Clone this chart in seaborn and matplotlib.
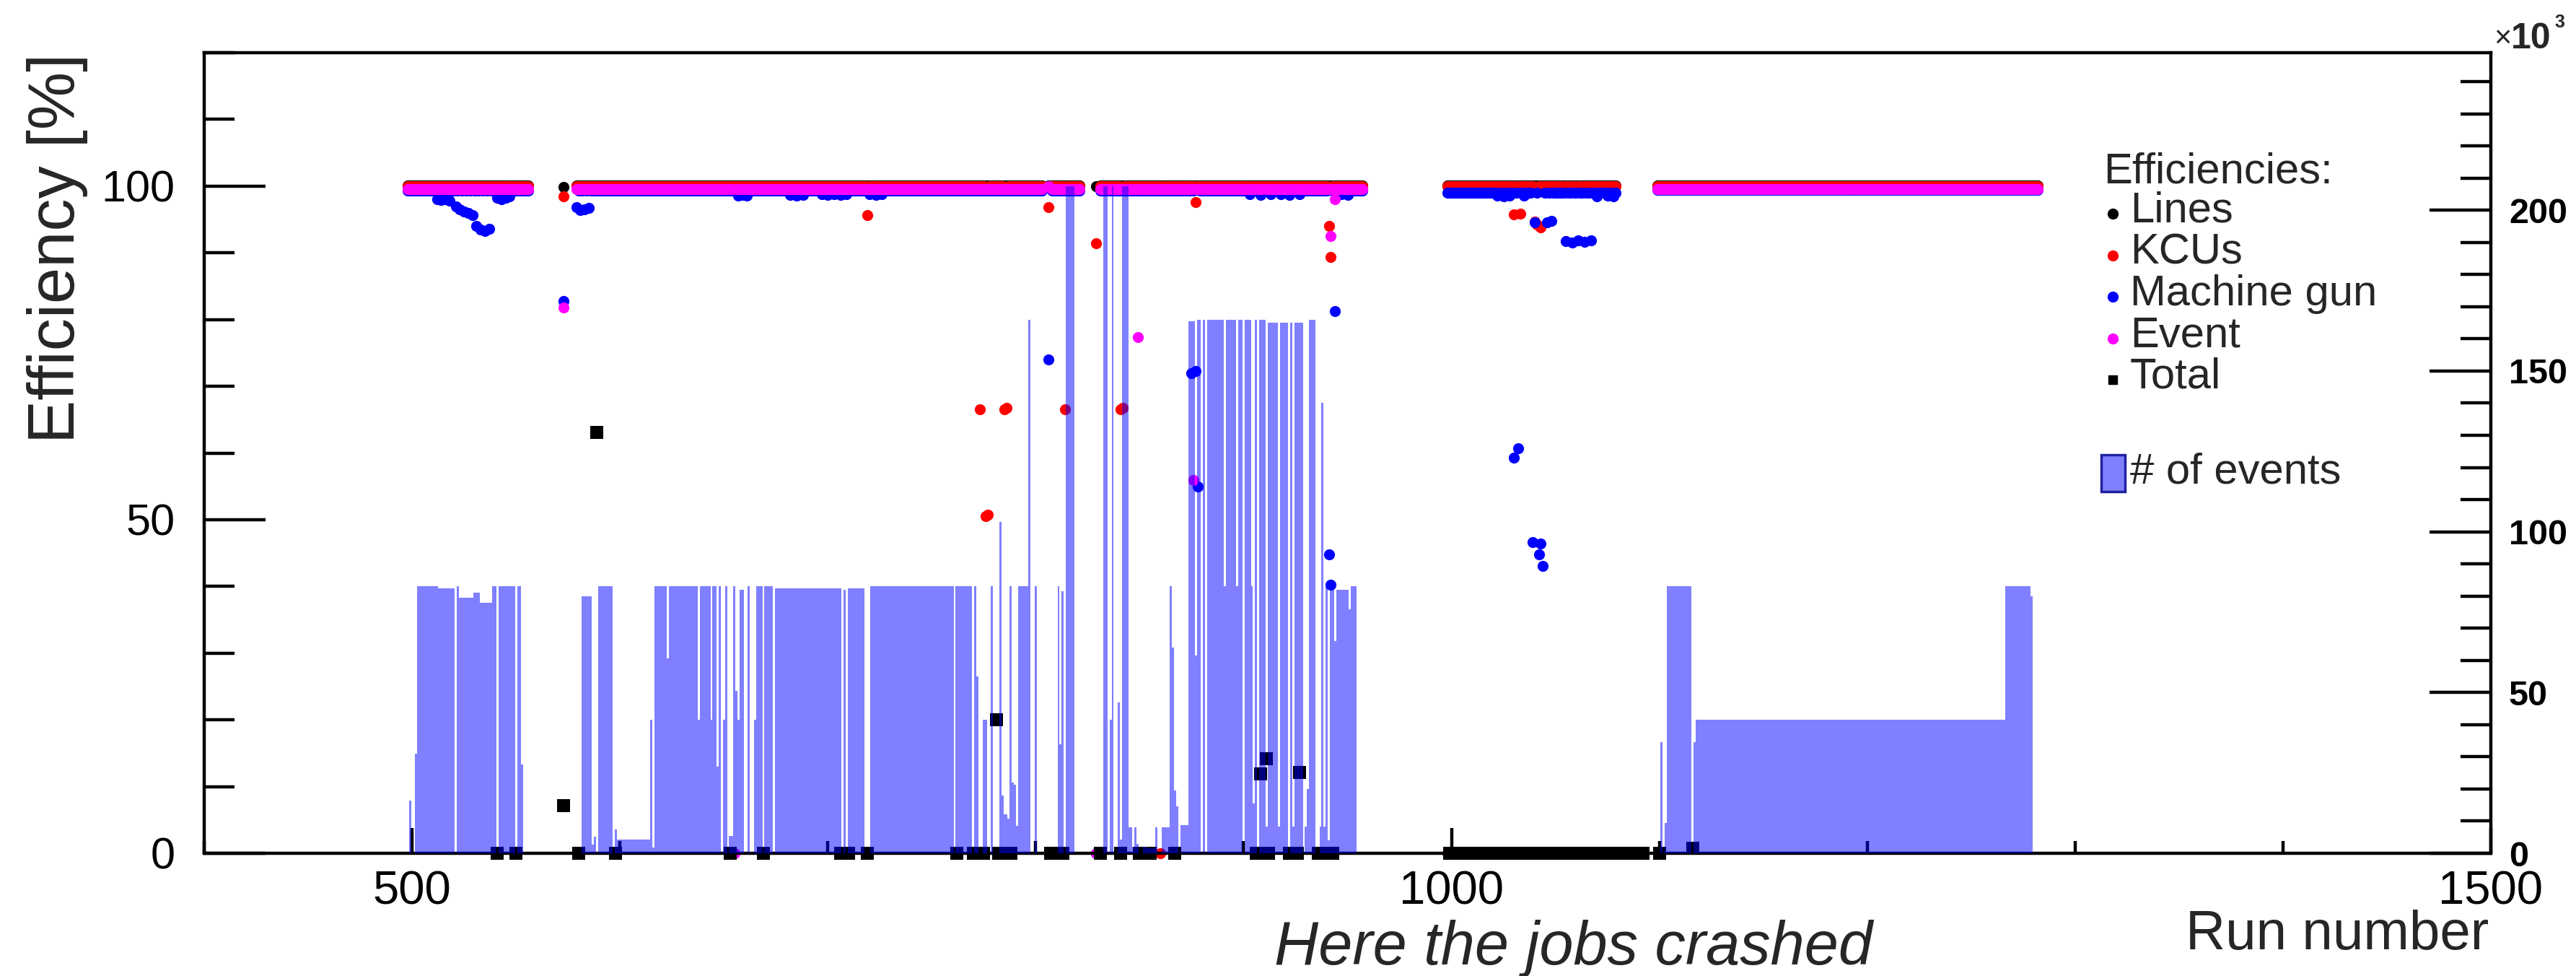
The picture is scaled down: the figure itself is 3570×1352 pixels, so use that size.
import numpy as np
import pandas as pd
import matplotlib
matplotlib.use("Agg")
import matplotlib.pyplot as plt
import seaborn as sns
from matplotlib.ticker import MultipleLocator, FixedLocator
from matplotlib.lines import Line2D
from matplotlib.patches import Rectangle

# ---------------------------------------------------------------- data
# histogram: number of events per run (in thousands), run-length segments (first_run, last_run, value)
hist_segments = [
    (499, 499, 16.5), (502, 502, 31.0), (503, 512, 83.0), (513, 520, 82.4), (522, 522, 83.0),
    (523, 529, 79.5), (530, 532, 81.0), (533, 538, 78.0), (539, 540, 83.0), (542, 549, 83.0),
    (551, 552, 83.0), (553, 553, 27.6),
    (582, 586, 80.0), (587, 587, 2.7), (588, 588, 5.2), (590, 596, 83.0), (598, 598, 7.5),
    (599, 614, 4.2), (615, 615, 41.5), (616, 616, 1.7), (617, 622, 83.0), (623, 623, 60.6),
    (624, 637, 83.0), (638, 638, 41.5), (639, 643, 83.0), (644, 644, 41.5), (645, 646, 83.0),
    (647, 647, 27.0), (648, 648, 83.0), (650, 650, 41.5), (651, 651, 83.0), (653, 654, 5.5),
    (655, 655, 83.0), (656, 656, 50.5), (657, 657, 41.5), (658, 659, 82.0), (662, 662, 83.0),
    (665, 665, 41.5), (666, 668, 83.0), (670, 673, 83.0), (675, 706, 82.5), (708, 708, 82.0),
    (710, 717, 82.5), (721, 760, 83.0),
    (762, 769, 83.0), (771, 771, 83.0), (772, 772, 55.0), (775, 776, 41.5), (779, 779, 83.0),
    (783, 783, 103.0), (784, 784, 18.0), (785, 786, 12.2), (787, 787, 10.8), (788, 788, 83.0),
    (789, 789, 22.0), (790, 790, 21.4), (791, 791, 8.5), (792, 796, 83.0), (797, 797, 166.0),
    (800, 800, 83.0), (811, 811, 83.0), (812, 812, 34.0), (813, 813, 81.5), (815, 818, 207.5),
    (833, 834, 207.5), (836, 836, 41.5), (837, 837, 207.5), (840, 840, 47.0), (841, 841, 4.2),
    (842, 844, 207.5), (845, 846, 8.0), (847, 847, 2.0), (848, 848, 8.0), (849, 849, 3.0),
    (852, 853, 2.0), (854, 857, 1.5), (858, 858, 8.0), (861, 864, 8.0), (865, 865, 83.0),
    (866, 866, 64.0), (867, 867, 19.5), (868, 868, 14.5), (870, 873, 8.7), (874, 876, 165.5),
    (877, 877, 61.5), (878, 879, 166.0), (881, 881, 166.0), (883, 890, 166.0), (891, 891, 83.0),
    (892, 896, 166.0), (897, 897, 83.0), (898, 899, 166.0), (901, 903, 166.0), (904, 904, 83.0),
    (905, 905, 15.5), (906, 906, 166.0), (908, 910, 166.0), (911, 911, 8.3), (912, 916, 165.0),
    (917, 917, 8.3), (918, 921, 165.0), (923, 923, 165.0), (924, 924, 8.3), (925, 928, 165.0),
    (930, 930, 8.3), (931, 931, 20.0), (932, 934, 166.0), (937, 937, 8.3), (938, 938, 140.0),
    (939, 939, 8.3), (940, 940, 83.0), (941, 941, 4.0), (942, 943, 82.0), (944, 944, 66.0),
    (945, 950, 82.0), (951, 951, 76.0), (952, 954, 83.0),
    (1101, 1101, 34.5), (1103, 1103, 9.5), (1104, 1115, 83.0), (1117, 1117, 34.5),
    (1118, 1266, 41.5), (1267, 1278, 83.0), (1279, 1279, 80.0),
]

# efficiencies [%]: run-length segments, then single-run readings that differ
lines_segments = [(498, 556, 100.1), (573, 573, 99.9), (579, 803, 100.1), (806, 806, 100.1),
                  (808, 821, 100.1), (829, 829, 100.0), (831, 957, 100.1), (998, 1079, 100.1),
                  (1099, 1282, 100.1)]
kcu_segments = [(498, 556, 100.0), (573, 573, 98.5), (579, 803, 100.0), (806, 806, 96.8),
                (808, 821, 100.0), (829, 829, 91.4), (831, 957, 100.0), (998, 1079, 100.0),
                (1099, 1282, 100.0)]
mg_segments = [(498, 556, 99.3), (573, 573, 82.8), (579, 803, 99.3), (806, 806, 74.0),
               (808, 821, 99.3), (831, 957, 99.3), (998, 1079, 99.0), (1099, 1282, 99.4)]
event_segments = [(498, 556, 99.6), (573, 573, 81.8), (579, 803, 99.6), (806, 806, 100.0),
                  (808, 821, 99.6), (829, 829, 0.0), (831, 957, 99.6), (998, 1079, 0.0),
                  (1099, 1282, 99.6)]

kcu_points = {719: 95.6, 773: 66.6, 776: 50.5, 777: 50.8, 785: 66.6, 786: 66.8, 814: 66.6,
              841: 66.6, 842: 66.8, 860: 0.0, 877: 97.6, 941: 94.0, 942: 89.4,
              1030: 95.8, 1033: 95.9, 1040: 94.7, 1041: 94.3, 1043: 93.8,
              1054: 99.3, 1057: 99.2, 1060: 99.3, 1063: 99.2}
mg_points = {512: 98.0, 514: 97.9, 516: 98.0, 518: 97.8, 521: 97.0, 523: 96.5, 525: 96.2,
             527: 96.0, 529: 95.6, 531: 94.0, 533: 93.5, 535: 93.3, 537: 93.6, 541: 98.3,
             543: 98.0, 545: 98.2, 547: 98.5, 579: 96.8, 581: 96.4, 583: 96.5, 585: 96.7,
             657: 98.6, 659: 98.7, 661: 98.6, 682: 98.7, 685: 98.6, 688: 98.7, 697: 98.8,
             700: 98.7, 703: 98.8, 706: 98.7, 709: 98.8, 720: 98.8, 723: 98.7, 726: 98.8,
             829: 0.0, 875: 72.0, 877: 72.3, 878: 55.0, 903: 98.8, 908: 98.7, 913: 98.8,
             918: 98.8, 922: 98.7, 927: 98.8, 941: 44.8, 942: 40.3, 944: 81.3, 947: 98.8,
             950: 98.7, 1022: 98.6, 1025: 98.5, 1028: 98.6, 1030: 59.3, 1032: 60.7,
             1035: 98.6, 1039: 46.6, 1040: 94.6, 1042: 44.8, 1043: 46.4, 1044: 43.1,
             1046: 94.6, 1048: 94.8, 1055: 91.8, 1058: 91.5, 1061: 91.9, 1064: 91.7,
             1067: 91.9, 1070: 98.5, 1075: 98.6, 1078: 98.5}
event_points = {655: 0.0, 849: 77.4, 876: 55.9, 906: 0.0, 910: 0.0, 926: 0.0, 942: 92.5,
                944: 98.0}

total_segments = [(999, 1092, 0.0)]
total_points = {541: 0.0, 550: 0.0, 573: 7.1, 580: 0.0, 589: 63.1, 598: 0.0, 653: 0.0,
                669: 0.0, 706: 0.0, 710: 0.0, 719: 0.0, 762: 0.0, 770: 0.0, 775: 0.0,
                781: 20.0, 782: 0.0, 788: 0.0, 807: 0.0, 813: 0.0, 831: 0.0, 841: 0.0,
                850: 0.0, 855: 0.0, 867: 0.0, 906: 0.0, 908: 11.9, 911: 14.2, 912: 0.0,
                922: 0.0, 926: 0.0, 927: 12.1, 936: 0.0, 941: 0.0, 943: 0.0, 1100: 0.0,
                1116: 0.8}

legend_labels = ["Lines", "KCUs", "Machine gun", "Event", "Total"]
left_ticks = [0, 50, 100]
right_ticks = [0, 50, 100, 150, 200]
x_ticks = [500, 1000, 1500]


def expand(segments, points=None):
    d = {}
    for a, b, v in segments:
        for r in range(a, b + 1):
            d[r] = v
    if points:
        d.update(points)
    runs = np.array(sorted(d))
    return runs, np.array([d[r] for r in runs])


hist_runs, hist_k = expand(hist_segments)
hist_df = pd.DataFrame({"run": hist_runs.astype(float), "events_k": hist_k})
lines_x, lines_y = expand(lines_segments)
kcu_x, kcu_y = expand(kcu_segments, kcu_points)
mg_x, mg_y = expand(mg_segments, mg_points)
ev_x, ev_y = expand(event_segments, event_points)
tot_x, tot_y = expand(total_segments, total_points)

# ---------------------------------------------------------------- style
W, H = 3570, 1352
sns.set_theme(style="white")
plt.rcParams["font.family"] = ["Liberation Sans", "DejaVu Sans"]
plt.rcParams["axes.edgecolor"] = "black"
plt.rcParams["xtick.color"] = "black"
plt.rcParams["ytick.color"] = "black"

fig = plt.figure(figsize=(W / 100, H / 100), dpi=100)
fig.patch.set_facecolor("white")
ax = fig.add_axes([283 / W, 1 - 1182 / H, (3452 - 283) / W, (1182 - 73) / H])
ax.set_facecolor("white")

S = 120
sns.scatterplot(x=lines_x, y=lines_y, color="black", s=S, linewidth=0, ax=ax, clip_on=False, legend=False)
sns.scatterplot(x=kcu_x, y=kcu_y, color="red", s=S, linewidth=0, ax=ax, clip_on=False, legend=False)
sns.scatterplot(x=mg_x, y=mg_y, color="blue", s=S, linewidth=0, ax=ax, clip_on=False, legend=False)
sns.scatterplot(x=ev_x, y=ev_y, color="magenta", s=S, linewidth=0, ax=ax, clip_on=False, legend=False)
sns.scatterplot(x=tot_x, y=tot_y, color="black", marker="s", s=150, linewidth=0, ax=ax,
                clip_on=False, legend=False)

ax2 = ax.twinx()
bin_edges = [399.5 + i for i in range(1102)]
sns.histplot(data=hist_df, x="run", weights="events_k", bins=bin_edges, color="blue",
             alpha=0.5, linewidth=0, ax=ax2, legend=False)
ax2.set_ylabel("")
ax2.set_ylim(0, 249)
ax.set_ylim(0, 120)
ax.set_xlim(400, 1500)
ax.set_xlabel("")
ax.set_ylabel("")

lw = 3.2
for sp in ["left", "top", "bottom"]:
    ax.spines[sp].set_linewidth(lw)
    ax.spines[sp].set_color("black")
ax.spines["right"].set_visible(False)
for sp in ["left", "top", "bottom"]:
    ax2.spines[sp].set_visible(False)
ax2.spines["right"].set_linewidth(lw)
ax2.spines["right"].set_color("black")

ax.yaxis.set_major_locator(FixedLocator(left_ticks))
ax.yaxis.set_minor_locator(MultipleLocator(10))
ax.xaxis.set_major_locator(FixedLocator(x_ticks))
ax.xaxis.set_minor_locator(MultipleLocator(100))
ax.set_yticklabels([str(t) for t in left_ticks])
ax.set_xticklabels([str(t) for t in x_ticks])
ax.tick_params(axis="y", which="major", direction="in", length=61, width=lw, labelsize=44,
               pad=29, left=True, right=False)
ax.tick_params(axis="y", which="minor", direction="in", length=30, width=lw, left=True, right=False)
ax.tick_params(axis="x", which="major", direction="in", length=25, width=lw, labelsize=47,
               pad=17, top=False, bottom=True)
ax.tick_params(axis="x", which="minor", direction="in", length=12, width=lw, top=False, bottom=True)

ax2.yaxis.set_major_locator(FixedLocator(right_ticks))
ax2.yaxis.set_minor_locator(MultipleLocator(10))
ax2.set_yticklabels([str(t) for t in right_ticks], fontweight="bold", fontsize=35,
                    va="center_baseline")
ax2.tick_params(axis="y", which="major", direction="in", length=61, width=lw, pad=18,
                right=True, left=False)
ax2.tick_params(axis="y", which="minor", direction="in", length=30, width=lw, right=True, left=False)

# ---------------------------------------------------------------- texts
fig.text(80 / W, 1 - 74 / H, "Efficiency [%]", rotation=90, ha="center", va="top", fontsize=65)
fig.text(3449 / W, 1 - 1315 / H, "Run number", ha="right", va="baseline", fontsize=55)
fig.text(2180 / W, 1 - 1336 / H, "Here the jobs crashed", ha="center", va="baseline",
         fontsize=61, style="italic")
fig.text(3456 / W, 1 - 66 / H, "\u00d7", ha="left", va="baseline", fontsize=30)
fig.text(3480 / W, 1 - 67 / H, "10", ha="left", va="baseline", fontsize=36, fontweight="bold")
fig.text(3540 / W, 1 - 38 / H, "3", ha="left", va="baseline", fontsize=18, fontweight="bold")

# legend
LFS = 43
fig.text(2915 / W, 1 - 254 / H, "Efficiencies:", ha="left", va="baseline", fontsize=LFS)
leg_colors = ["black", "red", "blue", "magenta", "black"]
leg_markers = ["o", "o", "o", "o", "s"]
for i, (lab, c, m) in enumerate(zip(legend_labels, leg_colors, leg_markers)):
    base = 308 + 57.5 * i
    fig.text(2952 / W, 1 - base / H, lab, ha="left", va="baseline", fontsize=LFS)
    fig.add_artist(Line2D([2928 / W], [1 - (base - 12) / H], marker=m, color=c,
                          markersize=10 if m == "o" else 9, linestyle="none",
                          transform=fig.transFigure))
fig.add_artist(Rectangle((2912 / W, 1 - 681 / H), 33 / W, 51 / H, transform=fig.transFigure,
                         facecolor=(0.5, 0.5, 1.0), edgecolor="#2020a0", linewidth=2.5))
fig.text(2952 / W, 1 - 670 / H, "# of events", ha="left", va="baseline", fontsize=LFS)

fig.savefig("out.png", dpi=100, facecolor="white")
